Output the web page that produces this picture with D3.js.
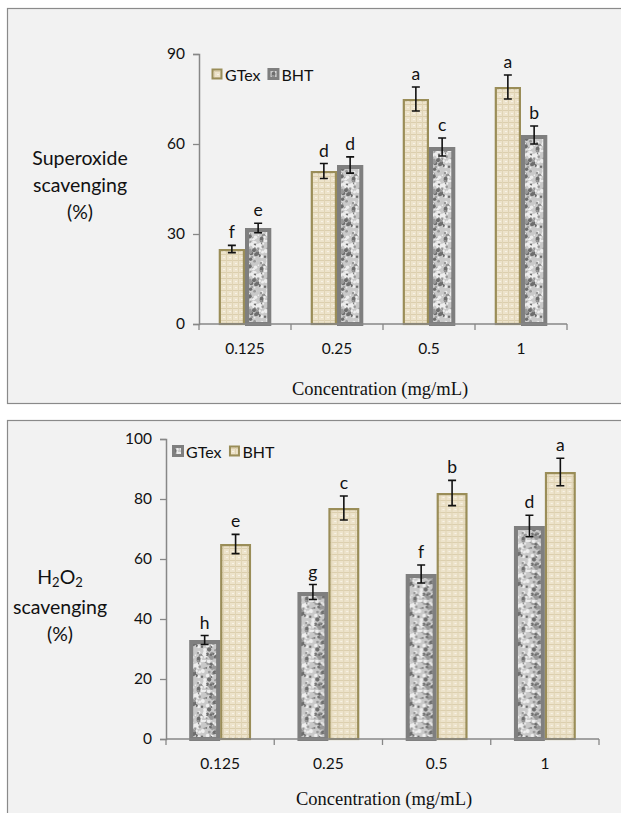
<!DOCTYPE html>
<html>
<head>
<meta charset="utf-8">
<script src="https://cdn.jsdelivr.net/npm/d3@7"></script>
<style>
  body { margin: 0; background: #fff; }
  svg { display: block; }
</style>
</head>
<body>
<svg id="chart" width="621" height="813"></svg>
<script>
// ---- data ----
const concentrations = ["0.125", "0.25", "0.5", "1"];
const series = ["GTex", "BHT"];

// superoxide panel
const superGTex = [25, 51, 75, 79];
const superGTexErr = [1.2, 2.5, 4, 4];
const superGTexLetters = ["f", "d", "a", "a"];
const superBHT = [32, 53, 59, 63];
const superBHTErr = [1.6, 2.7, 3, 3];
const superBHTLetters = ["e", "d", "c", "b"];
const superTicks = [0, 30, 60, 90];

// H2O2 panel
const h2o2GTex = [33, 49, 55, 71];
const h2o2GTexErr = [1.5, 2.5, 3, 3.6];
const h2o2GTexLetters = ["h", "g", "f", "d"];
const h2o2BHT = [65, 77, 82, 89];
const h2o2BHTErr = [3.2, 4, 4.2, 4.6];
const h2o2BHTLetters = ["e", "c", "b", "a"];
const h2o2Ticks = [0, 20, 40, 60, 80, 100];

const TAN_STROKE = "#9a8d58";
const GREY_STROKE = "#7f7f7f";
const AXIS = "#878787";
const LABEL_FONT = "Lato, 'Open Sans', sans-serif";

const svg = d3.select("#chart");
const defs = svg.append("defs");

// tan woven pattern
const tan = defs.append("pattern").attr("id", "tan")
    .attr("patternUnits", "userSpaceOnUse").attr("width", 6).attr("height", 6);
tan.append("rect").attr("width", 6).attr("height", 6).attr("fill", "#ede3cb");
tan.append("rect").attr("x", 0).attr("y", 2).attr("width", 6).attr("height", 1).attr("fill", "#dccfae");
tan.append("rect").attr("x", 3).attr("y", 0).attr("width", 1).attr("height", 6).attr("fill", "#e0d4b5");
tan.append("rect").attr("x", 0).attr("y", 5).attr("width", 2).attr("height", 1).attr("fill", "#f8f3e6");

// grey speckle pattern (deterministic hash, just texture)
const grey = defs.append("pattern").attr("id", "grey")
    .attr("patternUnits", "userSpaceOnUse").attr("width", 30).attr("height", 30);
grey.append("rect").attr("width", 30).attr("height", 30).attr("fill", "#c9c9c9");
let seed = 11;
function hash() { seed = (seed * 1103515245 + 12345) % 2147483648; return seed / 2147483648; }
for (let i = 0; i < 110; i++) {
  const r = hash();
  const col = r < 0.3 ? "#6e6e6e" : r < 0.6 ? "#989898" : "#eeeeee";
  grey.append("circle")
      .attr("cx", (hash() * 30).toFixed(1))
      .attr("cy", (hash() * 30).toFixed(1))
      .attr("r", (0.8 + hash() * 1.3).toFixed(1))
      .attr("fill", col);
}

const styles = {
  tan: {fill: "url(#tan)", stroke: TAN_STROKE, sw: 2.2},
  grey: {fill: "url(#grey)", stroke: GREY_STROKE, sw: 4}
};

function drawPanel(p) {
  const g = svg.append("g");

  // panel box
  g.append("rect")
      .attr("x", p.box[0] + 0.5).attr("y", p.box[1] + 0.5)
      .attr("width", p.box[2]).attr("height", p.box[3])
      .attr("fill", "#f2f2f2").attr("stroke", "#8a8a8a").attr("stroke-width", 1.2);

  const x0 = d3.scaleBand().domain(concentrations).range(p.xRange);
  const x1 = d3.scaleBand().domain(series).range([0, x0.bandwidth()]).paddingOuter(0.75);
  const y = d3.scaleLinear().domain([0, p.yMax]).range(p.yRange);

  const rows = concentrations.map((c, i) => ({
    c,
    bars: series.map((s, k) => ({
      s, v: p.values[k][i], e: p.errors[k][i], l: p.letters[k][i], st: styles[p.styles[k]]
    }))
  }));

  const groups = g.selectAll(".grp").data(rows).join("g")
      .attr("transform", d => `translate(${x0(d.c)},0)`);

  const bar = groups.selectAll(".bar").data(d => d.bars).join("g");

  bar.append("rect")
      .attr("x", d => x1(d.s) + d.st.sw / 2)
      .attr("y", d => y(d.v) + d.st.sw / 2)
      .attr("width", d => x1.bandwidth() - d.st.sw)
      .attr("height", d => y(0) - y(d.v) - d.st.sw / 2)
      .attr("fill", d => d.st.fill)
      .attr("stroke", d => d.st.stroke)
      .attr("stroke-width", d => d.st.sw);

  const cx = d => x1(d.s) + x1.bandwidth() / 2;
  bar.append("path")
      .attr("d", d => `M${cx(d) - 4},${y(d.v + d.e)}H${cx(d) + 4}M${cx(d)},${y(d.v + d.e)}V${y(d.v - d.e)}M${cx(d) - 4},${y(d.v - d.e)}H${cx(d) + 4}`)
      .attr("stroke", "#111").attr("stroke-width", 1.6).attr("fill", "none");

  bar.append("text")
      .attr("x", cx)
      .attr("y", d => y(d.v + d.e) - 7)
      .attr("text-anchor", "middle")
      .attr("font-family", LABEL_FONT).attr("font-size", 17.5)
      .attr("fill", "#111")
      .text(d => d.l);

  // y axis
  const ya = g.append("g").attr("transform", `translate(${p.xRange[0]},0)`)
      .call(d3.axisLeft(y).tickValues(p.ticks).tickSize(6).tickPadding(8));
  ya.select(".domain").attr("stroke", AXIS).attr("stroke-width", 1.5);
  ya.selectAll(".tick line").attr("stroke", AXIS).attr("stroke-width", 1.3);
  ya.selectAll("text").attr("font-family", LABEL_FONT).attr("font-size", 15.5).attr("fill", "#111");

  // x axis with boundary ticks
  const xa = g.append("g").attr("transform", `translate(0,${p.yRange[0]})`);
  xa.append("line").attr("x1", p.xRange[0]).attr("x2", p.xRange[1])
      .attr("stroke", AXIS).attr("stroke-width", 1.5);
  const bounds = concentrations.map(c => x0(c)).concat([p.xRange[1]]);
  xa.selectAll(".btick").data(bounds).join("line")
      .attr("x1", d => d).attr("x2", d => d).attr("y1", 0).attr("y2", 6)
      .attr("stroke", AXIS).attr("stroke-width", 1.3);
  xa.selectAll(".xl").data(concentrations).join("text")
      .attr("x", d => x0(d) + x0.bandwidth() / 2)
      .attr("y", 30)
      .attr("text-anchor", "middle")
      .attr("font-family", LABEL_FONT).attr("font-size", 15.5).attr("fill", "#111")
      .text(d => d);

  // x title
  g.append("text")
      .attr("x", p.xTitle[0]).attr("y", p.xTitle[1])
      .attr("text-anchor", "middle")
      .attr("font-family", "'Liberation Serif', 'Times New Roman', serif")
      .attr("font-size", 18.5).attr("fill", "#111")
      .text("Concentration (mg/mL)");

  // y title, one text element per line
  p.yTitle.forEach((line, i) => {
    const t = g.append("text")
        .attr("x", p.yTitlePos[0])
        .attr("y", p.yTitlePos[1] + i * 27 - (Array.isArray(line) ? 3 : 0))
        .attr("text-anchor", "middle")
        .attr("font-family", LABEL_FONT).attr("font-size", 19.5).attr("fill", "#111");
    if (Array.isArray(line)) {
      line.forEach(part => {
        if (part.sub) t.append("tspan").attr("font-size", 13).attr("baseline-shift", "-3").text(part.t);
        else t.append("tspan").text(part.t);
      });
    } else t.text(line);
  });

  // legend
  const lg = g.append("g").attr("transform", `translate(${p.legend[0]},${p.legend[1]})`);
  let lx = 0;
  series.forEach((s, k) => {
    const st = styles[p.styles[k]];
    lg.append("rect").attr("x", lx + 1.5).attr("y", -5.5).attr("width", 9).attr("height", 9)
        .attr("fill", st.fill).attr("stroke", st.stroke).attr("stroke-width", st.sw === 4 ? 3 : 2);
    const t = lg.append("text").attr("x", lx + 14).attr("y", 5.5)
        .attr("font-family", LABEL_FONT).attr("font-size", 16).attr("fill", "#111").text(s);
    lx += 14 + t.node().getComputedTextLength() + 7;
  });
}

drawPanel({
  box: [7, 8, 620, 395],
  xRange: [199, 567],
  yRange: [324, 54],
  yMax: 90,
  ticks: superTicks,
  values: [superGTex, superBHT],
  errors: [superGTexErr, superBHTErr],
  letters: [superGTexLetters, superBHTLetters],
  styles: ["tan", "grey"],
  xTitle: [380, 395],
  yTitle: ["Superoxide", "scavenging", "(%)"],
  yTitlePos: [80, 165],
  legend: [211, 75]
});

drawPanel({
  box: [7, 420, 620, 400],
  xRange: [166, 599],
  yRange: [739, 439],
  yMax: 100,
  ticks: h2o2Ticks,
  values: [h2o2GTex, h2o2BHT],
  errors: [h2o2GTexErr, h2o2BHTErr],
  letters: [h2o2GTexLetters, h2o2BHTLetters],
  styles: ["grey", "tan"],
  xTitle: [384, 805],
  yTitle: [[{t: "H"}, {t: "2", sub: true}, {t: "O"}, {t: "2", sub: true}], "scavenging", "(%)"],
  yTitlePos: [60, 587],
  legend: [172, 452]
});
</script>
</body>
</html>
